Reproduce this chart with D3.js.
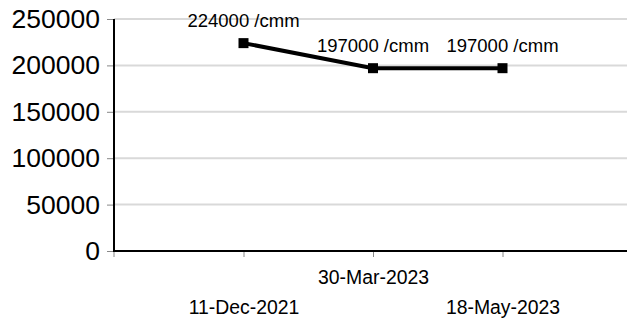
<!DOCTYPE html>
<html>
<head>
<meta charset="utf-8">
<script src="https://cdn.jsdelivr.net/npm/d3@7"></script>
<style>
  html, body { margin: 0; padding: 0; background: #fff; }
  svg { display: block; font-family: "Liberation Sans", Arial, sans-serif; }
</style>
</head>
<body>
<svg id="chart" width="627" height="321"></svg>
<script>
// Platelet count readings
const dates = ["11-Dec-2021", "30-Mar-2023", "18-May-2023"];
const counts = [224000, 197000, 197000];
const unit = "/cmm";
const yTicks = [0, 50000, 100000, 150000, 200000, 250000];

const svg = d3.select("#chart");
const plotLeft = 114, plotRight = 632, plotTop = 19, plotBottom = 251;

const x = d3.scalePoint().domain(dates).range([plotLeft, plotRight]).padding(1);
const y = d3.scaleLinear().domain([0, 250000]).range([plotBottom, plotTop]);

// Horizontal gridlines
svg.append("g")
  .selectAll("line")
  .data(yTicks.filter(d => d > 0))
  .join("line")
  .attr("x1", plotLeft).attr("x2", 627)
  .attr("y1", d => y(d)).attr("y2", d => y(d))
  .attr("stroke", "#d9d9d9").attr("stroke-width", 2);

// Y axis
const yAxis = svg.append("g")
  .attr("transform", `translate(${plotLeft},0)`)
  .call(d3.axisLeft(y).tickValues(yTicks).tickSize(7).tickPadding(7).tickFormat(d3.format("d")));
yAxis.select(".domain").remove();
yAxis.selectAll(".tick line").attr("stroke", "#888").attr("stroke-width", 1);
yAxis.selectAll(".tick text")
  .attr("font-size", 26.5).attr("fill", "#000")
  .attr("font-family", "Liberation Sans, Arial, sans-serif");
svg.append("line")
  .attr("x1", plotLeft).attr("x2", plotLeft).attr("y1", plotTop).attr("y2", plotBottom + 1)
  .attr("stroke", "#000").attr("stroke-width", 2);

// X axis, labels staggered on two rows
const xAxis = svg.append("g")
  .attr("transform", `translate(0,${plotBottom})`)
  .call(d3.axisBottom(x).tickSize(6).tickPadding(0));
xAxis.select(".domain").remove();
xAxis.selectAll(".tick line").attr("stroke", "#888").attr("stroke-width", 1);
xAxis.selectAll(".tick text")
  .attr("font-size", 19.4).attr("fill", "#000")
  .attr("font-family", "Liberation Sans, Arial, sans-serif")
  .attr("dy", 0)
  .attr("y", (d, i) => i % 2 === 0 ? 62.5 : 32.5);
xAxis.append("line")
  .attr("x1", plotLeft).attr("x2", plotLeft).attr("y1", 0).attr("y2", 6)
  .attr("stroke", "#888");
svg.append("line")
  .attr("x1", plotLeft - 1).attr("x2", 627).attr("y1", plotBottom).attr("y2", plotBottom)
  .attr("stroke", "#000").attr("stroke-width", 2);

// Series line
const line = d3.line().x((d, i) => x(dates[i])).y(d => y(d));
svg.append("path")
  .datum(counts)
  .attr("d", line)
  .attr("fill", "none").attr("stroke", "#000").attr("stroke-width", 4);

// Square markers
const m = 10;
svg.append("g")
  .selectAll("rect")
  .data(counts)
  .join("rect")
  .attr("x", (d, i) => x(dates[i]) - m / 2)
  .attr("y", d => y(d) - m / 2)
  .attr("width", m).attr("height", m)
  .attr("fill", "#000");

// Value labels
svg.append("g")
  .selectAll("text")
  .data(counts)
  .join("text")
  .attr("x", (d, i) => x(dates[i]))
  .attr("y", d => y(d) - 16.5)
  .attr("text-anchor", "middle")
  .attr("font-size", 18.5).attr("fill", "#000")
  .text(d => `${d} ${unit}`);
</script>
</body>
</html>
